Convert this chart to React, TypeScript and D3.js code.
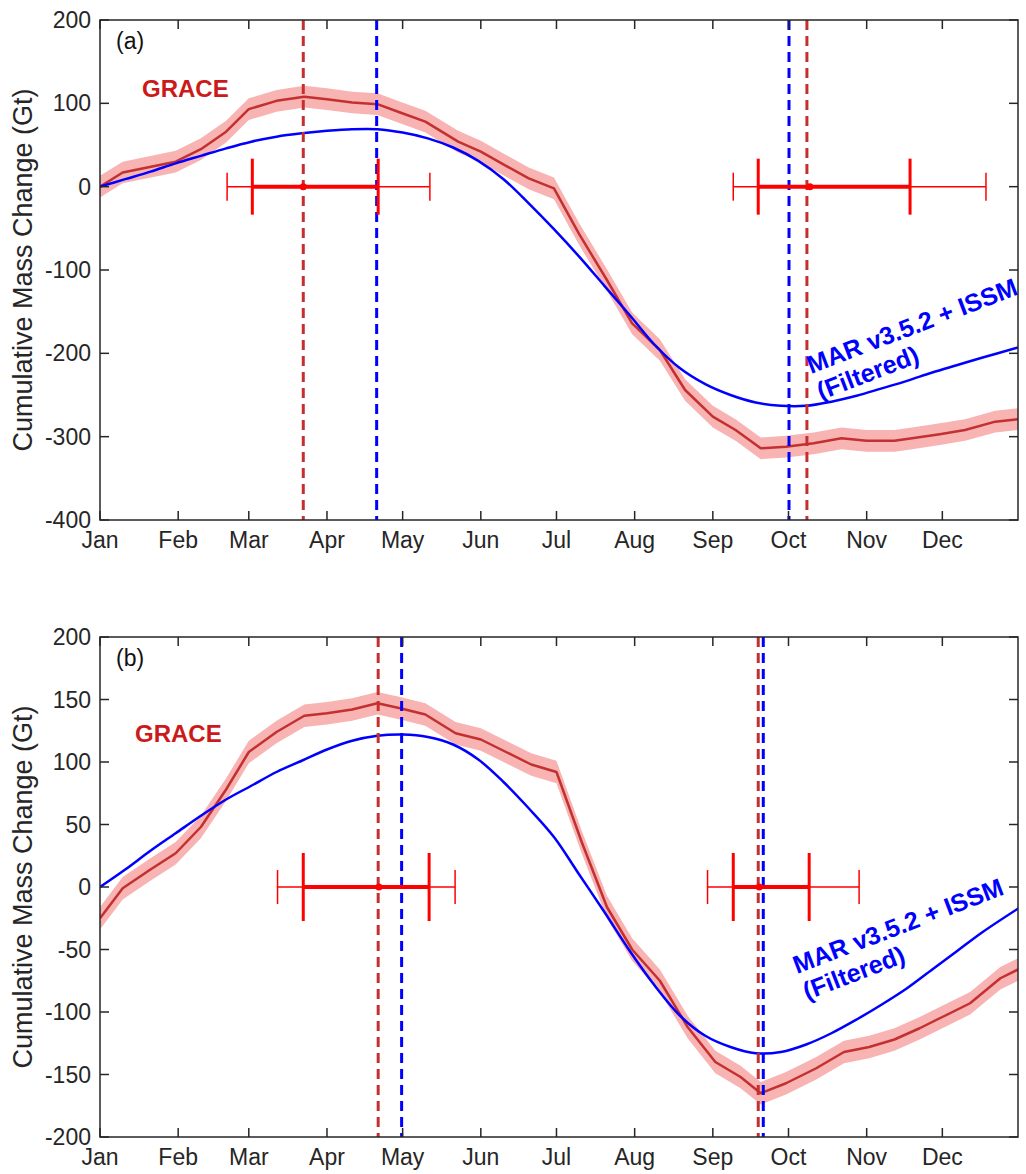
import * as d3 from 'd3'

// month ticks (day of year, Jan 1 = 0)
const monthDays = [0, 31, 59, 90, 120, 151, 181, 212, 243, 273, 304, 334]
const monthLabels = ['Jan', 'Feb', 'Mar', 'Apr', 'May', 'Jun', 'Jul', 'Aug', 'Sep', 'Oct', 'Nov', 'Dec']

// panel (a)
const graceDaysA = [0, 9, 30, 40, 50, 59, 70, 81, 90, 100, 110, 119, 129, 142, 151, 161, 170, 180, 190, 201, 211, 222, 232, 243, 252, 262, 272, 283, 294, 304, 315, 322, 333, 343, 355, 364]
const graceValsA = [0, 17, 30, 45, 66, 93, 103, 108, 105, 101, 99, 89, 78, 54, 42, 25, 10, -2, -57, -112, -164, -196, -244, -276, -292, -314, -312, -308, -302, -305, -305, -302, -297, -292, -282, -279]
const graceErrA = 13
const marDaysA = [0, 10, 20, 30, 40, 50, 60, 70, 80, 90, 100, 110, 120, 130, 140, 150, 160, 170, 180, 190, 200, 210, 220, 230, 240, 250, 260, 270, 280, 290, 300, 310, 320, 330, 340, 350, 364]
const marValsA = [0, 9, 18, 28, 37, 46, 54, 60, 64, 67, 69, 69, 65, 58, 47, 31, 9, -20, -51, -84, -119, -154, -190, -218, -237, -250, -259, -263, -263, -258, -251, -242, -233, -223, -214, -205, -193]
const peakTroughA = { grace: [80.6, 280.3], mar: [109.7, 273.2] }
// error bars: [center, thick lo, thick hi, thin lo, thin hi] in days
const errBarsA = [
  [80.6, 60.4, 110.3, 50.4, 130.8],
  [281.5, 261, 321.2, 251.1, 351.3],
]

// panel (b)
const graceDaysB = [0, 9, 20, 30, 40, 50, 59, 70, 81, 90, 100, 110, 119, 129, 141, 151, 161, 171, 181, 191, 201, 211, 222, 233, 244, 254, 262, 272, 284, 295, 305, 315, 325, 334, 345, 357, 365]
const graceValsB = [-25, -1, 14, 27, 48, 78, 108, 124, 137, 139, 142, 147, 143, 138, 123, 118, 108, 98, 92, 36, -16, -50, -75, -112, -140, -152, -165, -157, -145, -132, -128, -122, -113, -104, -93, -73, -65]
const graceErrB = 9
const marDaysB = [0, 10, 20, 30, 40, 50, 60, 70, 80, 90, 100, 110, 120, 130, 140, 150, 160, 170, 180, 190, 200, 210, 220, 230, 240, 250, 260, 270, 280, 290, 300, 310, 320, 330, 340, 350, 365]
const marValsB = [0, 14, 29, 43, 57, 70, 81, 92, 101, 110, 117, 121, 122, 120, 114, 102, 84, 63, 40, 10, -20, -51, -79, -103, -119, -128, -133, -132, -126, -117, -106, -94, -81, -66, -51, -36, -16]
const peakTroughB = { grace: [110.3, 261], mar: [119.6, 263] }
const errBarsB = [
  [110.6, 80.6, 130.5, 70.4, 140.8],
  [261.4, 251.1, 281.2, 240.9, 301],
]

const yTicksA = [200, 100, 0, -100, -200, -300, -400]
const yTicksB = [200, 150, 100, 50, 0, -50, -100, -150, -200]

const FONT = 'Liberation Sans, Arial, Helvetica, sans-serif'
const AXIS = '#262626'
const GRACE_LINE = '#c43030'
const GRACE_BAND = '#f8b3b3'
const GRACE_TEXT = '#cc1a1a'
const BAR = '#ff0000'
const BLUE = '#0000ff'

const X0 = 100
const X1 = 1018

function Panel({ id, top, bottom, yDomain, yTicks, gDays, gVals, gErr, mDays, mVals, marks, bars, caps, letter, graceXY, marXY }) {
  const x = d3.scaleLinear().domain([0, 364]).range([X0, X1])
  const y = d3.scaleLinear().domain(yDomain).range([bottom, top])
  const g = gDays.map((d, i) => [d, gVals[i]])
  const m = mDays.map((d, i) => [d, mVals[i]])
  const band = d3.area().x((p) => x(p[0])).y0((p) => y(p[1] - gErr)).y1((p) => y(p[1] + gErr))
  const line = d3.line().x((p) => x(p[0])).y((p) => y(p[1]))
  const smooth = d3.line().x((p) => x(p[0])).y((p) => y(p[1])).curve(d3.curveCatmullRom)
  const tick = 9

  return (
    <g>
      <defs>
        <clipPath id={`clip-${id}`}>
          <rect x={X0} y={top} width={X1 - X0} height={bottom - top} />
        </clipPath>
      </defs>
      <g clipPath={`url(#clip-${id})`}>
        <path d={band(g)} fill={GRACE_BAND} />
        <path d={line(g)} fill="none" stroke={GRACE_LINE} strokeWidth={2.5} strokeLinejoin="round" />
        <path d={smooth(m)} fill="none" stroke={BLUE} strokeWidth={2.5} />
        {marks.grace.map((d) => (
          <line key={`g${d}`} x1={x(d)} x2={x(d)} y1={top} y2={bottom} stroke={GRACE_LINE} strokeWidth={3} strokeDasharray="10,6" />
        ))}
        {marks.mar.map((d) => (
          <line key={`m${d}`} x1={x(d)} x2={x(d)} y1={top} y2={bottom} stroke={BLUE} strokeWidth={3} strokeDasharray="10,6" />
        ))}
        {bars.map((b, i) => (
          <g key={i} stroke={BAR}>
            <line x1={x(b[3])} x2={x(b[4])} y1={y(0)} y2={y(0)} strokeWidth={1.5} />
            <line x1={x(b[3])} x2={x(b[3])} y1={y(0) - caps[1]} y2={y(0) + caps[1]} strokeWidth={1.5} />
            <line x1={x(b[4])} x2={x(b[4])} y1={y(0) - caps[1]} y2={y(0) + caps[1]} strokeWidth={1.5} />
            <line x1={x(b[1])} x2={x(b[2])} y1={y(0)} y2={y(0)} strokeWidth={4} />
            <line x1={x(b[1])} x2={x(b[1])} y1={y(0) - caps[0]} y2={y(0) + caps[0]} strokeWidth={3} />
            <line x1={x(b[2])} x2={x(b[2])} y1={y(0) - caps[0]} y2={y(0) + caps[0]} strokeWidth={3} />
            <circle cx={x(b[0])} cy={y(0)} r={3.5} fill={BAR} stroke="none" />
          </g>
        ))}
      </g>

      {/* axes box */}
      <rect x={X0} y={top} width={X1 - X0} height={bottom - top} fill="none" stroke={AXIS} strokeWidth={1.5} />
      {monthDays.map((d) => (
        <g key={d} stroke={AXIS} strokeWidth={1.5}>
          <line x1={x(d)} x2={x(d)} y1={bottom} y2={bottom - tick} />
          <line x1={x(d)} x2={x(d)} y1={top} y2={top + tick} />
        </g>
      ))}
      {yTicks.map((v) => (
        <g key={v} stroke={AXIS} strokeWidth={1.5}>
          <line x1={X0} x2={X0 + tick} y1={y(v)} y2={y(v)} />
          <line x1={X1} x2={X1 - tick} y1={y(v)} y2={y(v)} />
        </g>
      ))}
      <g fontFamily={FONT} fontSize={23} fill={AXIS}>
        {yTicks.map((v) => (
          <text key={v} x={X0 - 9} y={y(v)} textAnchor="end" dominantBaseline="central">{v}</text>
        ))}
        {monthDays.map((d, i) => (
          <text key={d} x={x(d)} y={bottom + 28} textAnchor="middle">{monthLabels[i]}</text>
        ))}
      </g>
      <text transform={`translate(32,${(top + bottom) / 2}) rotate(-90)`} textAnchor="middle" fontFamily={FONT} fontSize={27} fill={AXIS}>
        Cumulative Mass Change (Gt)
      </text>
      <text x={116} y={top + 29} fontFamily={FONT} fontSize={23} fill="#111">{letter}</text>
      <text x={graceXY[0]} y={graceXY[1]} fontFamily={FONT} fontSize={24} fontWeight="bold" fill={GRACE_TEXT}>GRACE</text>
      <text transform={`translate(${marXY[0]},${marXY[1]}) rotate(-21)`} fontFamily={FONT} fontSize={25} fontWeight="bold" fill={BLUE}>
        <tspan x={0} dy={0}>MAR v3.5.2 + ISSM</tspan>
        <tspan x={0} dy={28}>(Filtered)</tspan>
      </text>
    </g>
  )
}

export default function App() {
  return (
    <svg width={1026} height={1174} style={{ position: 'absolute', left: 0, top: 0, background: '#fff' }}>
      <Panel id="a" top={20} bottom={520} yDomain={[-400, 200]} yTicks={yTicksA}
        gDays={graceDaysA} gVals={graceValsA} gErr={graceErrA}
        mDays={marDaysA} mVals={marValsA} marks={peakTroughA} bars={errBarsA} caps={[28, 14]}
        letter="(a)" graceXY={[142, 97]} marXY={[811, 374]} />
      <Panel id="b" top={637} bottom={1137} yDomain={[-200, 200]} yTicks={yTicksB}
        gDays={graceDaysB} gVals={graceValsB} gErr={graceErrB}
        mDays={marDaysB} mVals={marValsB} marks={peakTroughB} bars={errBarsB} caps={[34, 17]}
        letter="(b)" graceXY={[135, 742]} marXY={[797, 974]} />
    </svg>
  )
}
